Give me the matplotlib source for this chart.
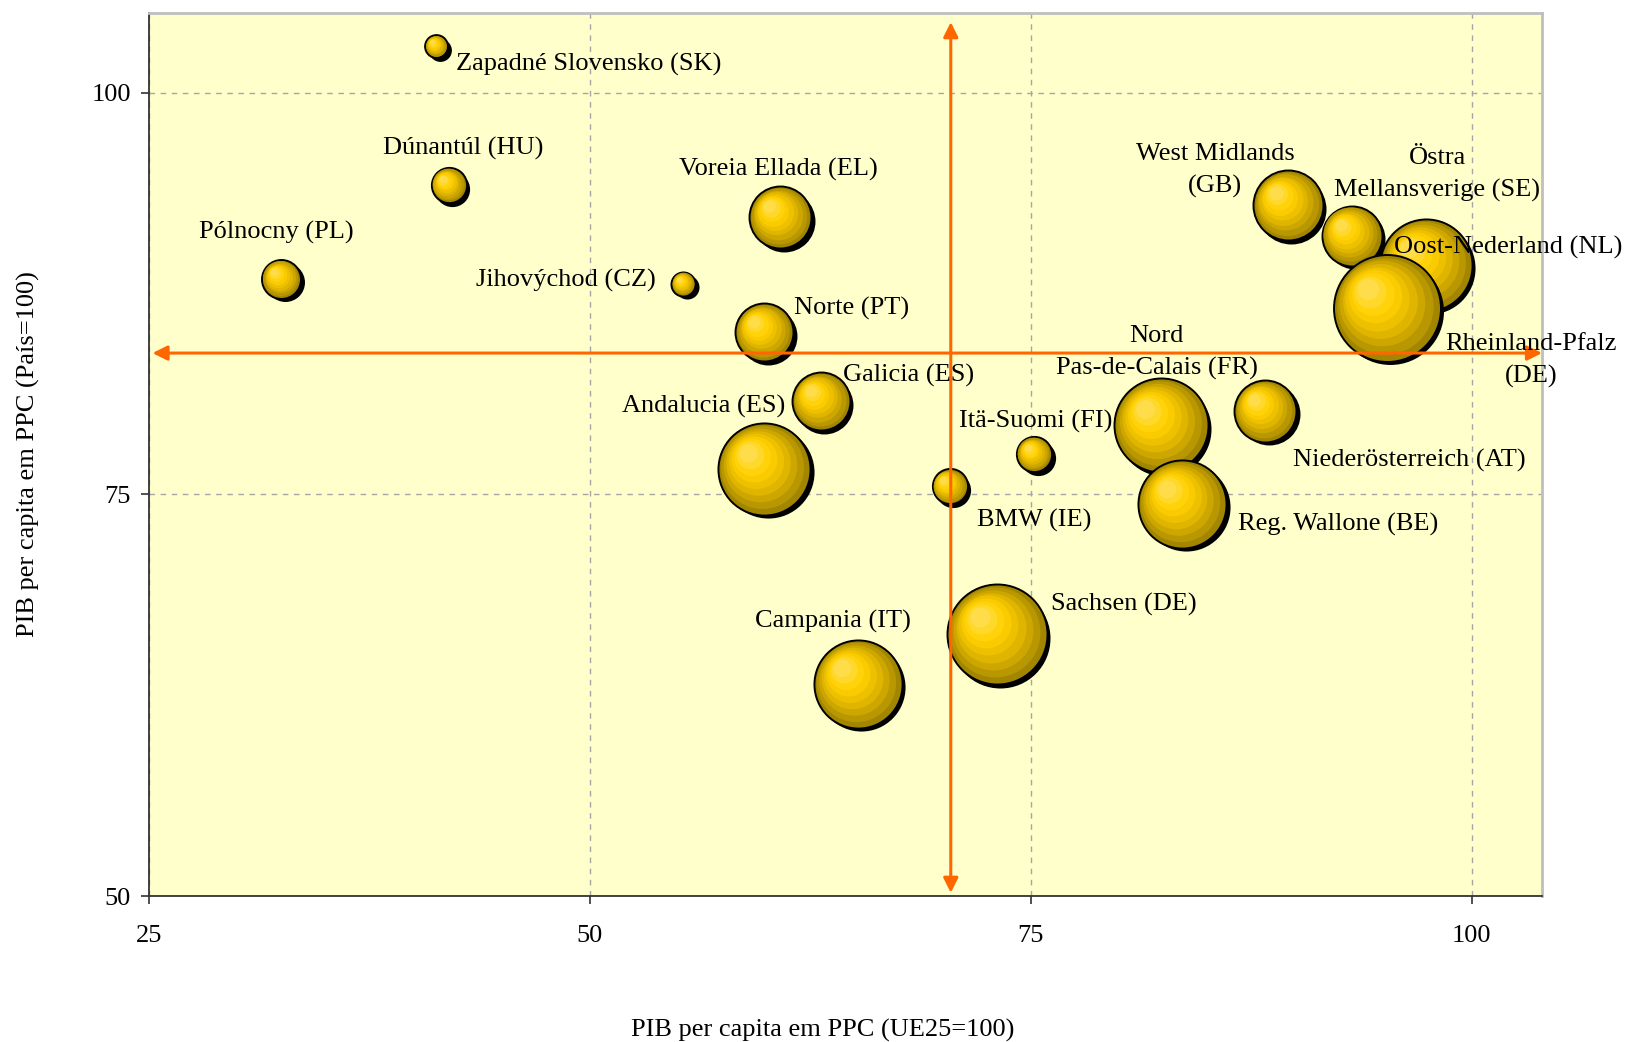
import matplotlib
matplotlib.use("Agg")
import matplotlib.pyplot as plt
import matplotlib.transforms as mtransforms
import numpy as np

# ---------------- data ----------------
regions = ["Zapadné Slovensko (SK)", "Dúnantúl (HU)", "Pólnocny (PL)", "Jihovýchod (CZ)",
           "Voreia Ellada (EL)", "Norte (PT)", "Galicia (ES)", "Andalucia (ES)",
           "Campania (IT)", "Sachsen (DE)", "BMW (IE)", "Itä-Suomi (FI)",
           "Nord\nPas-de-Calais (FR)", "Reg. Wallone (BE)", "Niederösterreich (AT)",
           "West Midlands\n(GB)", "Oost-Nederland (NL)", "Östra\nMellansverige (SE)",
           "Rheinland-Pfalz\n(DE)"]
gdp_eu = [41.3, 42.0, 32.5, 55.3, 60.8, 59.9, 63.1, 59.9, 65.2, 73.1, 70.4, 75.2,
          82.4, 83.6, 88.3, 89.6, 97.4, 93.2, 95.2]          # PIB per capita em PPC (UE25=100)
gdp_country = [102.9, 94.25, 88.4, 88.1, 92.25, 85.1, 80.8, 76.6, 63.2, 66.3, 75.5, 77.5,
               79.3, 74.4, 80.2, 93.0, 89.3, 91.1, 86.6]     # PIB per capita em PPC (País=100)
bubble_value = [1.3, 3.1, 3.8, 1.45, 9.6, 8.4, 8.4, 21.2, 19.4, 25.0, 3.1, 3.1,
                22.1, 19.4, 9.6, 12.25, 21.2, 9.0, 28.6]

threshold_x = 70.47   # vertical reference arrow
threshold_y = 83.8    # horizontal reference arrow

# label anchors (x, y, horizontal alignment)
label_x = [42.44, 42.8, 32.25, 53.75, 60.7, 61.6, 64.36, 61.06, 63.77, 76.14, 71.96, 75.26,
           82.15, 86.75, 89.87, 85.45, 95.58, 98.06, 103.36]
label_y = [101.94, 96.7, 91.47, 88.5, 95.4, 86.76, 82.56, 80.62, 67.25, 68.35, 73.58, 79.72,
           84.0, 73.32, 77.26, 95.35, 90.57, 95.09, 83.5]
label_ha = ["left", "center", "center", "right", "center", "left", "left", "right", "center",
            "left", "left", "center", "center", "left", "left", "center", "left", "center",
            "center"]

xticks = [25, 50, 75, 100]
yticks = [50, 75, 100]

# ---------------- style ----------------
plt.rcParams['font.family'] = ['Liberation Serif', 'DejaVu Serif']
FS = 19

fig = plt.figure(figsize=(16.28, 10.42), dpi=100)
ax = fig.add_axes([0.0915, 0.1401, 0.8557, 0.8479])
ax.set_facecolor('#FFFFCC')
ax.set_xlim(25, 104)
ax.set_ylim(50, 105)
ax.set_xticks(xticks)
ax.set_yticks(yticks)
ax.tick_params(axis='both', direction='out', length=6, width=1.2, color='#333333',
               labelsize=FS)
ax.tick_params(axis='x', pad=15)
ax.tick_params(axis='y', pad=7)
ax.grid(True, color='#A6A6A6', linestyle=(0, (4, 4)), linewidth=1.0)
ax.set_axisbelow(True)
for s in ['left', 'bottom']:
    ax.spines[s].set_color('#333333')
    ax.spines[s].set_linewidth(1.3)
for s in ['top', 'right']:
    ax.spines[s].set_color('#BFBFBF')
    ax.spines[s].set_linewidth(2)

ring_colors = ['#A38600', '#B89700', '#CDA700', '#DFB500', '#EEC100', '#FACB00',
               '#FFD209', '#FFD82C', '#FFDD4A']
n_rings = len(ring_colors)

z = 3
for xi, yi, v in zip(gdp_eu, gdp_country, bubble_value):
    r_px = 10.0 * np.sqrt(v)
    r_pt = r_px * 0.72
    # shadow
    tr = mtransforms.offset_copy(ax.transData, fig=fig, x=2.4, y=-2.4, units='points')
    ax.scatter([xi], [yi], s=(2 * r_pt) ** 2, c='black', linewidths=0, transform=tr,
               zorder=z)
    z += 0.01
    for k, col in enumerate(ring_colors):
        f = 1.0 - k * (0.8 / (n_rings - 1))
        off = (1 - f) * 0.44 * r_pt
        tr = mtransforms.offset_copy(ax.transData, fig=fig, x=-off, y=off, units='points')
        if k == 0:
            ax.scatter([xi], [yi], s=(2 * r_pt) ** 2, c=col, edgecolors='black',
                       linewidths=1.4, transform=tr, zorder=z)
        else:
            ax.scatter([xi], [yi], s=(2 * r_pt * f) ** 2, c=col, linewidths=0,
                       transform=tr, zorder=z)
        z += 0.01

# reference arrows
arrow_kw = dict(arrowstyle='<|-|>', color='#FF6600', lw=2.2, mutation_scale=22,
                shrinkA=0, shrinkB=0)
ax.annotate('', xy=(104, threshold_y), xytext=(25.2, threshold_y),
            arrowprops=arrow_kw, zorder=50, annotation_clip=False)
ax.annotate('', xy=(threshold_x, 104.4), xytext=(threshold_x, 50.2),
            arrowprops=arrow_kw, zorder=50, annotation_clip=False)

# labels
txt_tr = mtransforms.offset_copy(ax.transData, fig=fig, x=0, y=-2, units='points')
for name, lx, ly, ha in zip(regions, label_x, label_y, label_ha):
    ax.text(lx, ly, name, ha=ha, va='center', fontsize=FS, color='black',
            linespacing=1.55, zorder=60, clip_on=False, multialignment='center',
            transform=txt_tr)

fig.text(28 / 1628, 1 - 454 / 1042, 'PIB per capita em PPC (País=100)', rotation=90,
         ha='center', va='center', fontsize=FS)
fig.text(823 / 1628, 1 - 1030 / 1042, 'PIB per capita em PPC (UE25=100)',
         ha='center', va='center', fontsize=FS)

fig.savefig('out.png', dpi=100)
